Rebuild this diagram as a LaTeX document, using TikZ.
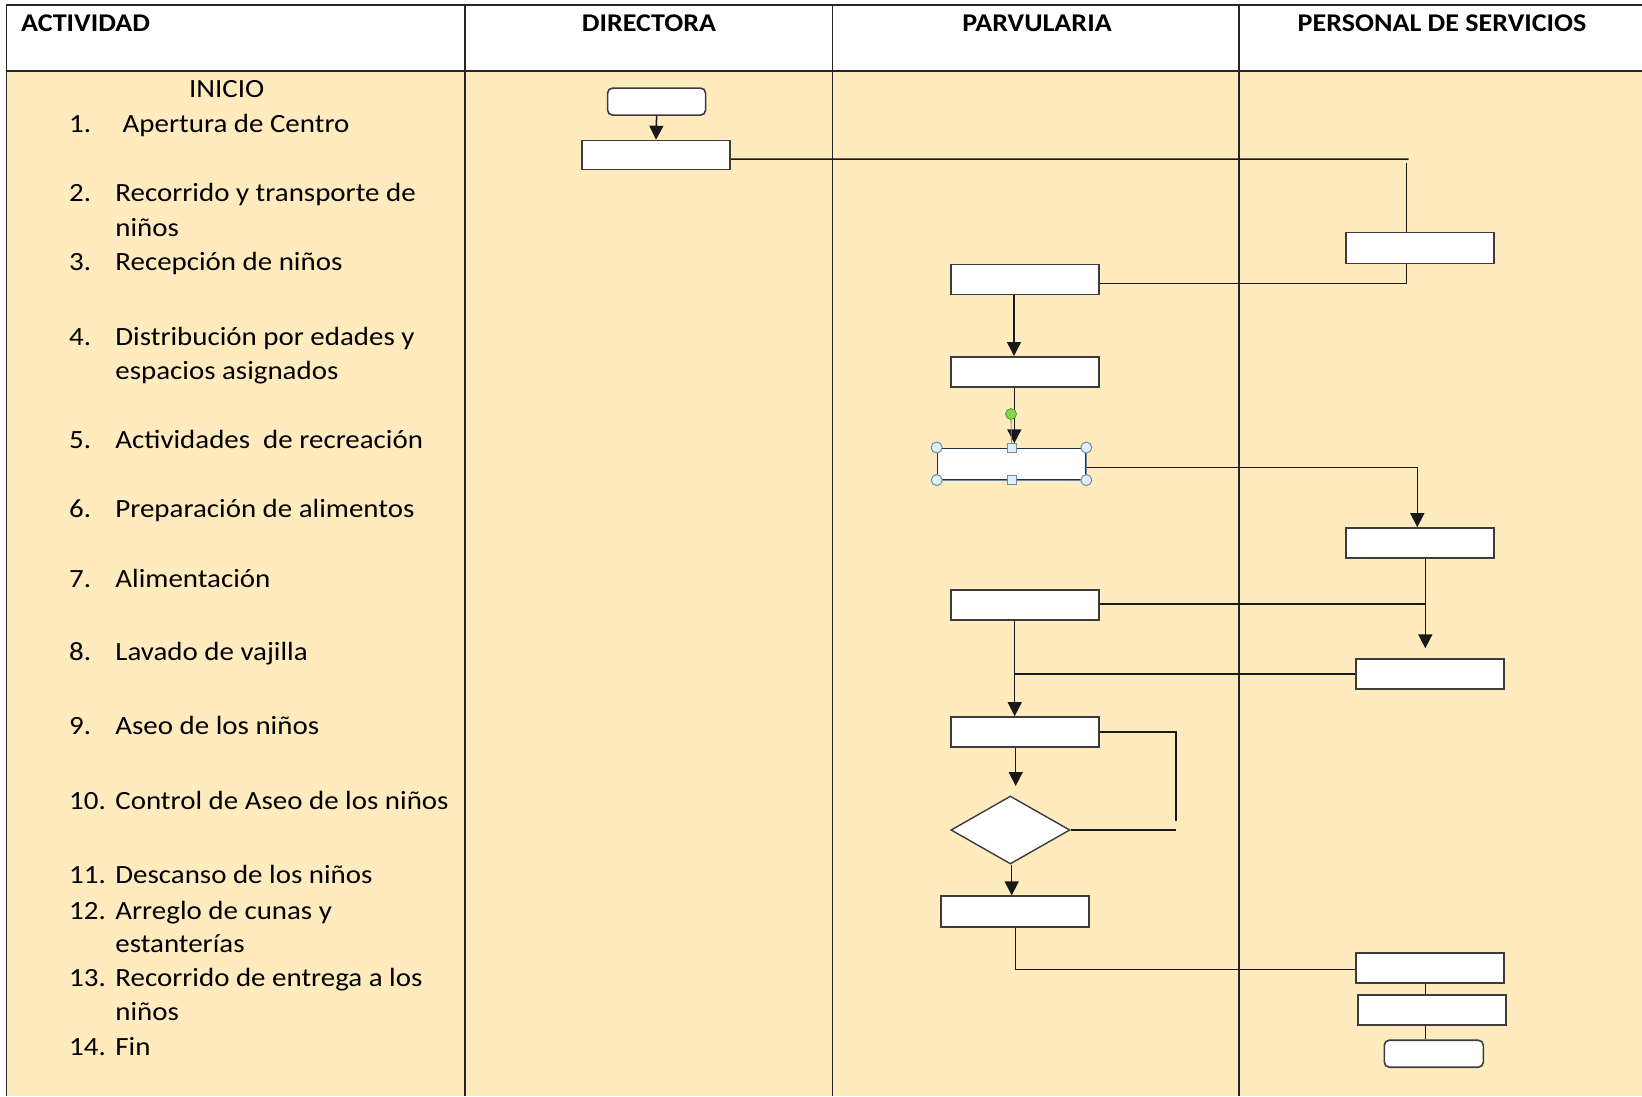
\documentclass[tikz,border=0pt]{standalone}
\usepackage{fontspec}
\setmainfont{Carlito}[FakeStretch=1.1]
\usetikzlibrary{shapes.geometric,arrows.meta}
\definecolor{bodyfill}{RGB}{255,235,190}
\definecolor{boxgrey}{RGB}{60,60,60}
\definecolor{selnavy}{RGB}{35,45,65}
\definecolor{handlefill}{RGB}{222,240,248}
\definecolor{handleline}{RGB}{115,140,165}
\definecolor{greenfill}{RGB}{135,215,75}
\definecolor{greenline}{RGB}{90,150,50}
\tikzset{
  tline/.style={line width=1.5pt, draw=black!85},
  proc/.style={rectangle, draw=boxgrey, fill=white, line width=1.6pt, minimum width=148pt, minimum height=30pt, inner sep=0pt},
  term/.style={proc, rounded corners=5pt, minimum width=98pt, minimum height=27pt},
  dec/.style={diamond, draw=boxgrey, fill=white, line width=1.4pt, minimum width=119pt, minimum height=68pt, inner sep=0pt},
  conn/.style={line width=1.5pt, draw=black!90},
  arr/.style={conn, -{Triangle[length=14pt,width=14pt]}},
  hdr/.style={font=\bfseries\fontsize{25.5}{30}\selectfont, anchor=base, inner sep=0pt},
  txt/.style={font=\fontsize{26.3}{31}\selectfont, anchor=base west, inner sep=0pt},
  handle/.style={circle, draw=handleline, fill=handlefill, line width=1pt, minimum size=11pt, inner sep=0pt},
  sqhandle/.style={rectangle, draw=handleline, fill=handlefill, line width=1pt, minimum size=9pt, inner sep=0pt},
  greendot/.style={circle, draw=greenline, fill=greenfill, line width=0.8pt, minimum size=11pt, inner sep=0pt},
}
\begin{document}
\begin{tikzpicture}[x=1pt,y=-1pt]
\useasboundingbox (0,0) rectangle (1642,1096);
% table
\fill[white] (0,0) rectangle (1642,1096);
\fill[bodyfill] (6.3,71.2) rectangle (1642,1096);
\draw[tline] (6.3,1096) -- (6.3,5.2) -- (1642,5.2);
\draw[tline] (6.3,71.2) -- (1642,71.2);
\draw[tline] (465,5.2) -- (465,1096);
\draw[tline] (832.5,5.2) -- (832.5,1096);
\draw[tline] (1238.8,5.2) -- (1238.8,1096);
% headers
\node[hdr, anchor=base west] (hact) at (21,31.5) {ACTIVIDAD};
\node[hdr] (hdir) at (649,31.5) {DIRECTORA};
\node[hdr] (hpar) at (1037,31.5) {PARVULARIA};
\node[hdr] (hper) at (1442,31.5) {PERSONAL DE SERVICIOS};
% activity list
\node[txt, anchor=base] (inicio) at (226.7,97.3) {INICIO};
\node[txt] (n1) at (69,132.6) {1.};
\node[txt] (t1) at (122.5,132.6) {Apertura de Centro};
\node[txt] (n2) at (69,201.7) {2.};
\node[txt] (t2a) at (115.2,201.7) {Recorrido y transporte de};
\node[txt] (t2b) at (115.2,236.2) {niños};
\node[txt] (n3) at (69,270.8) {3.};
\node[txt] (t3) at (115.2,270.8) {Recepción de niños};
\node[txt] (n4) at (69,345.2) {4.};
\node[txt] (t4a) at (115.2,345.2) {Distribución por edades y};
\node[txt] (t4b) at (115.2,379.7) {espacios asignados};
\node[txt] (n5) at (69,448.8) {5.};
\node[txt] (t5) at (115.2,448.8) {Actividades\ \ de recreación};
\node[txt] (n6) at (69,517.9) {6.};
\node[txt] (t6) at (115.2,517.9) {Preparación de alimentos};
\node[txt] (n7) at (69,587.1) {7.};
\node[txt] (t7) at (115.2,587.1) {Alimentación};
\node[txt] (n8) at (69,660.4) {8.};
\node[txt] (t8) at (115.2,660.4) {Lavado de vajilla};
\node[txt] (n9) at (69,734.7) {9.};
\node[txt] (t9) at (115.2,734.7) {Aseo de los niños};
\node[txt] (n10) at (69,809.1) {10.};
\node[txt] (t10) at (115.2,809.1) {Control de Aseo de los niños};
\node[txt] (n11) at (69,883.4) {11.};
\node[txt] (t11) at (115.2,883.4) {Descanso de los niños};
\node[txt] (n12) at (69,919) {12.};
\node[txt] (t12a) at (115.2,919) {Arreglo de cunas y};
\node[txt] (t12b) at (115.2,952.6) {estanterías};
\node[txt] (n13) at (69,986) {13.};
\node[txt] (t13a) at (115.2,986) {Recorrido de entrega a los};
\node[txt] (t13b) at (115.2,1020.6) {niños};
\node[txt] (n14) at (69,1055.2) {14.};
\node[txt] (t14) at (115.2,1055.2) {Fin};
% shapes
\node[term] (st) at (656.6,101.6) {};
\node[proc, minimum height=29pt] (b1) at (656,155) {};
\node[proc, minimum height=31pt] (ps1) at (1420,247.8) {};
\node[proc] (p1) at (1024.7,279.3) {};
\node[proc] (p2) at (1024.7,371.8) {};
\node[proc, draw=selnavy, minimum height=31pt] (p3) at (1011.5,463.8) {};
\node[proc] (ps2) at (1420.2,543) {};
\node[proc] (p4) at (1024.7,605) {};
\node[proc] (ps3) at (1430.2,674.2) {};
\node[proc] (p5) at (1024.8,732) {};
\node[dec] (dm) at (1010.4,830) {};
\node[proc, minimum height=31pt] (p6) at (1014.8,911.7) {};
\node[proc] (ps4) at (1430.2,968) {};
\node[proc] (ps5) at (1431.7,1009.7) {};
\node[term, minimum width=99pt] (en) at (1433.8,1053.7) {};
% connectors
\coordinate (xa) at (1014,0);
\coordinate (xb) at (1014.3,0);
\coordinate (xc) at (1011.7,0);
\coordinate (xd) at (1425.3,0);
\draw[arr] (st.south) -- (b1.north);
\coordinate (r1) at (1408.5,159.2);
\draw[conn] ([yshift=-4pt]b1.east) -- (r1);
\coordinate (r2) at (1406.5,163);
\draw[conn] (r2) -- (r2 |- ps1.north);
\coordinate (r3) at (1406.5,283.3);
\draw[conn] (r3 |- ps1.south) -- (r3) -- (p1.east |- r3);
\draw[arr] (p1.south -| xa) -- (p2.north -| xa);
\coordinate (t2) at (1014.3,443.3);
\draw[arr] (p2.south -| xb) -- (t2);
\coordinate (r4) at (1417.3,467.3);
\draw[arr] (p3.east |- r4) -- (r4) -- (ps2.north -| r4);
\coordinate (r5) at (1425.3,604);
\draw[conn] (p4.east |- r5) -- (r5);
\coordinate (t3) at (1425.3,648.3);
\draw[arr] (ps2.south -| r5) -- (t3);
\coordinate (r6) at (1014.7,674.2);
\draw[conn] (ps3.west |- r6) -- (r6);
\draw[arr] (p4.south -| r6) -- (p5.north -| r6);
\coordinate (r7) at (1176,732);
\coordinate (r8) at (1176,820.7);
\coordinate (r9) at (1176,828.5);
\draw[conn] (p5.east |- r7) -- (r7) -- (r8);
\draw[conn] (dm.east) -- (dm.east -| r9);
\coordinate (t4) at (1015.7,786);
\draw[arr] (p5.south -| t4) -- (t4);
\draw[arr] (dm.south -| xc) -- (p6.north -| xc);
\coordinate (r10) at (1015.7,969.3);
\draw[conn] (p6.south -| r10) -- (r10) -- (ps4.west |- r10);
\draw[conn] (ps4.south -| xd) -- (ps5.north -| xd);
\draw[conn] (ps5.south -| xd) -- (en.north -| xd);
% selection handles on p3
\draw[handleline, line width=1.2pt] (p3.north east) -- (p3.south east) -- (p3.south west);
\node[greendot] (g) at (1011,414) {};
\node[sqhandle] (hs1) at (p3.north) {};
\node[sqhandle] (hs2) at (p3.south) {};
\draw[handleline, line width=0.8pt] (g) -- (hs1);
\node[handle] (hc1) at (p3.north west) {};
\node[handle] (hc2) at (p3.north east) {};
\node[handle] (hc3) at (p3.south west) {};
\node[handle] (hc4) at (p3.south east) {};
\end{tikzpicture}
\end{document}
